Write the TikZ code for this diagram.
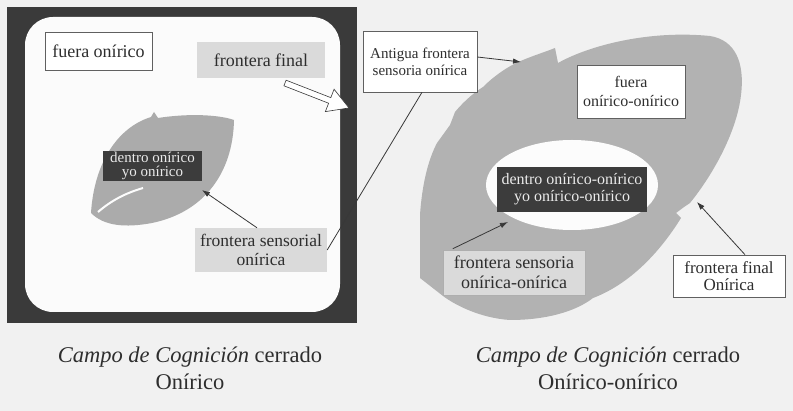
\documentclass[tikz,border=0pt]{standalone}
\usepackage{fontspec}
\setmainfont{Liberation Serif}
\usetikzlibrary{arrows.meta}
\definecolor{bgc}{HTML}{F1F1F1}
\definecolor{framec}{HTML}{3A3A3A}
\definecolor{darkbox}{HTML}{3C3C3C}
\definecolor{leafc}{HTML}{ABABAB}
\definecolor{shapec}{HTML}{B2B2B2}
\definecolor{lightbox}{HTML}{DADADA}
\definecolor{linec}{HTML}{383838}
\definecolor{txtc}{HTML}{2E2E2E}
\begin{document}
\begin{tikzpicture}[x=1pt,y=-1pt,
  whitebox/.style={draw=linec!80, line width=0.6pt, fill=white, text=txtc, align=center, inner sep=2pt},
  greybox/.style={fill=lightbox, text=txtc, align=center, inner sep=2pt},
  darkbx/.style={fill=darkbox, text=white!92!black, align=center, inner sep=2pt},
  conn/.style={draw=linec, line width=0.8pt, -{Latex[length=8pt,width=5.5pt]}},
  plainline/.style={draw=linec, line width=0.8pt},
  captxt/.style={text=txtc, align=center, font=\fontsize{22.5}{27}\selectfont}]
\useasboundingbox (0,0) rectangle (793,411);
\fill[bgc] (0,0) rectangle (793,411);

% ---------- left panel ----------
\fill[framec] (7,7) rectangle (357,323);
\fill[white!70!bgc, rounded corners=28pt] (25,17) rectangle (340,312);

% leaf
\fill[leafc] (91,213) .. controls (94,165) and (116,128) .. (151,117) -- (154,112) -- (158,118)
  .. controls (190,113) and (220,115) .. (234,120)
  .. controls (233,172) and (205,212) .. (152,223)
  .. controls (125,228) and (104,226) .. (91,213) -- cycle;
\draw[white!80!bgc, line width=2pt] (98,212) .. controls (112,200) and (126,193) .. (143,188);

\node[whitebox, minimum width=107pt, minimum height=38pt, font=\fontsize{18}{20}\selectfont] (fuera1) at (98.5,51) {fuera onírico};
\node[greybox, minimum width=128pt, minimum height=36pt, font=\fontsize{18}{20}\selectfont] (ffinal1) at (261,60) {frontera final};
\node[darkbx, minimum width=99pt, minimum height=29pt, inner sep=1pt, font=\fontsize{15}{14.5}\selectfont] (dentro1) at (152.5,166) {dentro onírico\\yo onírico};
\node[greybox, minimum width=132pt, minimum height=44pt, font=\fontsize{17.5}{18.5}\selectfont] (fsens1) at (261,250) {frontera sensorial\\onírica};

% hollow arrow
\coordinate (hstart) at (285,83);
\coordinate (htip) at (349,108);
\begin{scope}[shift={(hstart)}, rotate=-21.3]
  \draw[linec, line width=0.6pt, fill=white, line join=miter]
    (0,-3) -- (48,-3) -- (48,-12) -- (68.7,0) -- (48,12) -- (48,3) -- (0,3) -- cycle;
\end{scope}

\coordinate (leaftip) at (202,190);
\draw[conn] ([xshift=-4pt]fsens1.north) -- (leaftip);

% ---------- right panel ----------
\fill[shapec] (523,60) .. controls (535,55) and (545,52) .. (555,48) -- (558,63)
  .. controls (590,45) and (650,30) .. (710,36)
  .. controls (735,40) and (745,62) .. (741,95)
  .. controls (737,130) and (715,172) .. (690,203)
  -- (684,207) -- (676,213) -- (681,218)
  .. controls (660,252) and (630,284) .. (593,298)
  .. controls (575,312) and (545,320) .. (510,320)
  .. controls (480,318) and (455,305) .. (443,296)
  -- (420,278) -- (420,215)
  .. controls (422,185) and (428,160) .. (437,143)
  -- (450,125) -- (455,112)
  .. controls (465,100) and (475,92) .. (483,87)
  .. controls (495,75) and (510,65) .. (523,60) -- cycle;
\fill[white!80!bgc] (572,185) ellipse [x radius=86, y radius=45];

\node[whitebox, minimum width=114pt, minimum height=61pt, font=\fontsize{15}{17}\selectfont] (antigua) at (420,61.5) {Antigua frontera\\sensoria onírica};
\node[whitebox, minimum width=108pt, minimum height=53pt, font=\fontsize{16}{19}\selectfont] (fuera2) at (631,91.5) {fuera\\onírico-onírico};
\node[darkbx, minimum width=150pt, minimum height=45pt, font=\fontsize{16}{17}\selectfont] (dentro2) at (572,189.5) {dentro onírico-onírico\\yo onírico-onírico};
\node[greybox, draw=lightbox!80!black, line width=0.5pt, minimum width=142pt, minimum height=45pt, font=\fontsize{18}{20}\selectfont] (fsens2) at (514,272.5) {frontera sensoria\\onírica-onírica};
\node[whitebox, minimum width=112pt, minimum height=42pt, font=\fontsize{17}{17.5}\selectfont] (ffinal2) at (729,276) {frontera final\\Onírica};

\coordinate (shapetip) at (521,62);
\coordinate (ellipsetip) at (508,222);
\coordinate (finaltip) at (697,202);
\draw[conn] (antigua.east |- 0,57) -- (shapetip);
\draw[plainline] (fsens1.east) -- ([xshift=2pt]antigua.south);
\draw[conn] ([xshift=10pt,yshift=1pt]fsens2.north west) -- (ellipsetip);
\draw[conn] ([xshift=16pt]ffinal2.north) -- (finaltip);

% ---------- captions ----------
\node[captxt] (cap1) at (190,368) {\textit{Campo de Cognición} cerrado\\Onírico};
\node[captxt] (cap2) at (608,368) {\textit{Campo de Cognición} cerrado\\Onírico-onírico};
\end{tikzpicture}
\end{document}
